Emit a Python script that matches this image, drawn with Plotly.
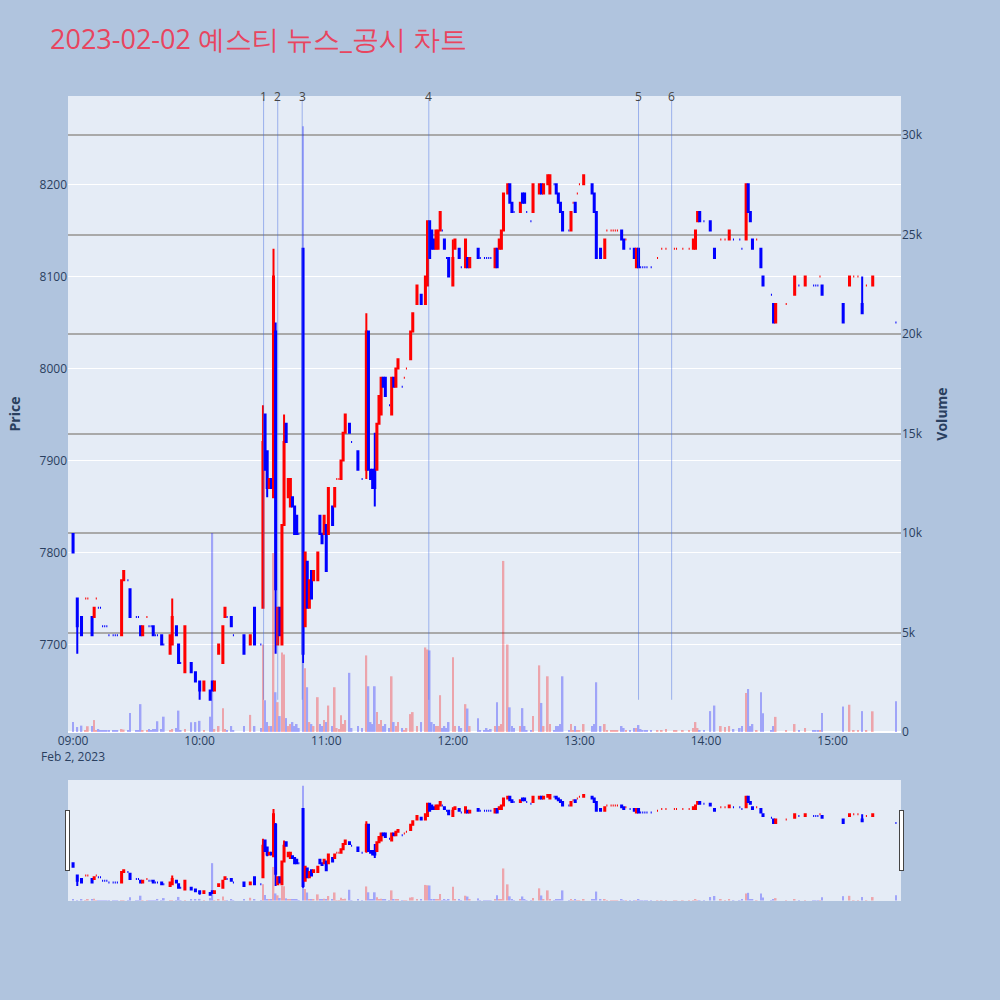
import pandas as pd
import plotly.graph_objects as go
from plotly.subplots import make_subplots

DATE = "2023-02-02"
TITLE = "2023-02-02 예스티 뉴스_공시 차트"

times = [
    "09:00","09:02","09:04","09:06","09:07","09:09","09:10","09:11","09:12","09:13",
    "09:14","09:15","09:16","09:17","09:19","09:20","09:21","09:23","09:24","09:26",
    "09:27","09:30","09:31","09:32","09:33","09:35","09:36","09:37","09:38","09:39",
    "09:40","09:42","09:43","09:46","09:47","09:49","09:50","09:51","09:53","09:56",
    "09:58","10:00","10:02","10:05","10:06","10:07","10:09","10:11","10:12","10:13",
    "10:15","10:16","10:21","10:24","10:26","10:29","10:30","10:31","10:32","10:33",
    "10:34","10:35","10:36","10:37","10:38","10:39","10:40","10:41","10:42","10:43",
    "10:44","10:45","10:46","10:47","10:49","10:50","10:51","10:52","10:53","10:54",
    "10:56","10:57","10:58","10:59","11:00","11:01","11:03","11:04","11:05","11:06",
    "11:07","11:08","11:09","11:11","11:12","11:15","11:17","11:19","11:20","11:21",
    "11:22","11:23","11:24","11:25","11:26","11:27","11:28","11:30","11:31","11:32",
    "11:33","11:34","11:36","11:37","11:38","11:40","11:41","11:43","11:45","11:47",
    "11:48","11:49","11:50","11:51","11:52","11:53","11:54","11:55","11:56","11:57",
    "11:58","12:00","12:01","12:03","12:04","12:06","12:07","12:08","12:12","12:13",
    "12:15","12:16","12:17","12:18","12:20","12:21","12:22","12:23","12:24","12:26",
    "12:27","12:28","12:29","12:32","12:33","12:34","12:35","12:37","12:38","12:41",
    "12:42","12:43","12:45","12:46","12:48","12:49","12:50","12:51","12:52","12:55",
    "12:56","12:57","12:58","12:59","13:00","13:02","13:06","13:07","13:08","13:10",
    "13:12","13:13","13:15","13:16","13:17","13:18","13:20","13:21","13:22","13:24",
    "13:26","13:27","13:28","13:29","13:30","13:31","13:32","13:34","13:37","13:39",
    "13:41","13:45","13:46","13:49","13:52","13:54","13:55","13:56","13:57","13:59",
    "14:02","14:04","14:07","14:09","14:11","14:13","14:16","14:17","14:19","14:20",
    "14:21","14:22","14:24","14:26","14:27","14:31","14:32","14:33","14:38","14:42",
    "14:44","14:47","14:51","14:52","14:53","14:54","14:55","15:05","15:08","15:10",
    "15:12","15:14","15:16","15:19","15:30",
]

opens = [
    7820,7750,7730,7750,7750,7730,7730,7750,7740,7740,
    7720,7720,7720,7710,7710,7710,7710,7710,7770,7770,
    7760,7730,7730,7720,7710,7730,7720,7720,7720,7710,
    7710,7710,7700,7690,7700,7720,7700,7680,7670,7680,
    7670,7660,7650,7650,7660,7650,7690,7680,7730,7730,
    7730,7710,7710,7700,7740,7700,7740,7950,7910,7870,
    7880,7860,8040,7700,7740,7700,7830,7940,7860,7850,
    7860,7850,7840,7820,8130,7720,7790,7740,7780,7770,
    7770,7840,7820,7820,7830,7820,7850,7850,7880,7880,
    7880,7900,7930,7940,7920,7910,7880,7890,8040,7890,
    7890,7890,7890,7940,7950,7990,7990,7960,7950,7990,
    7980,8000,7980,7990,8000,8010,8040,8070,8080,8070,
    8090,8160,8150,8140,8130,8130,8150,8150,8140,8120,
    8120,8090,8130,8130,8110,8110,8120,8110,8130,8120,
    8120,8120,8120,8120,8110,8130,8130,8130,8150,8190,
    8200,8180,8170,8170,8190,8190,8170,8160,8170,8190,
    8200,8190,8200,8190,8200,8200,8190,8180,8170,8150,
    8150,8180,8180,8190,8200,8200,8200,8190,8170,8130,
    8120,8150,8150,8150,8150,8150,8150,8140,8140,8130,
    8130,8110,8130,8110,8110,8110,8110,8110,8120,8130,
    8130,8130,8130,8130,8130,8130,8130,8160,8170,8160,
    8160,8130,8140,8140,8140,8140,8140,8130,8140,8200,
    8170,8140,8140,8130,8100,8080,8070,8050,8070,8080,
    8090,8090,8090,8090,8090,8100,8090,8070,8090,8100,
    8100,8070,8090,8090,8050,
]

highs = [
    7820,7750,7730,7750,7750,7730,7740,7750,7740,7740,
    7720,7720,7720,7710,7710,7710,7710,7770,7780,7770,
    7760,7730,7730,7720,7720,7730,7720,7720,7720,7710,
    7710,7710,7700,7710,7750,7720,7700,7680,7720,7680,
    7670,7660,7660,7650,7660,7660,7700,7720,7740,7730,
    7730,7710,7710,7710,7740,7700,7960,7950,7910,7880,
    7880,8130,8050,7740,7740,7830,7950,7940,7880,7880,
    7860,7850,7840,7820,8130,7800,7790,7770,7780,7780,
    7800,7840,7820,7840,7830,7870,7850,7870,7880,7880,
    7900,7930,7950,7940,7920,7910,7880,8060,8040,7890,
    7890,7930,7940,7970,7990,7990,7990,7960,7990,7990,
    8000,8010,7980,7990,8000,8040,8060,8090,8080,8100,
    8160,8160,8150,8140,8150,8150,8170,8150,8140,8120,
    8120,8140,8140,8130,8110,8140,8120,8120,8130,8120,
    8120,8120,8120,8120,8130,8130,8140,8150,8190,8200,
    8200,8180,8170,8180,8190,8190,8170,8160,8200,8200,
    8200,8200,8210,8210,8200,8200,8190,8180,8170,8150,
    8170,8180,8180,8190,8200,8210,8200,8190,8170,8130,
    8140,8150,8150,8150,8150,8150,8150,8140,8140,8130,
    8130,8130,8130,8110,8110,8110,8110,8110,8120,8130,
    8130,8130,8130,8130,8130,8140,8150,8170,8170,8160,
    8160,8130,8140,8140,8150,8140,8140,8130,8200,8200,
    8170,8140,8140,8130,8100,8080,8070,8070,8070,8100,
    8090,8100,8090,8090,8090,8100,8090,8070,8100,8100,
    8100,8100,8090,8100,8050,
]

lows = [
    7800,7690,7710,7750,7750,7710,7730,7750,7740,7740,
    7720,7720,7720,7710,7710,7710,7710,7710,7770,7770,
    7730,7730,7730,7710,7710,7730,7720,7720,7710,7710,
    7710,7700,7700,7690,7700,7710,7680,7680,7670,7670,
    7660,7640,7650,7640,7650,7650,7690,7680,7730,7730,
    7720,7710,7690,7700,7700,7700,7740,7890,7860,7870,
    7870,7860,7690,7700,7710,7700,7830,7920,7860,7850,
    7850,7820,7820,7820,7680,7720,7740,7740,7750,7770,
    7770,7820,7810,7820,7780,7820,7830,7850,7880,7880,
    7880,7900,7930,7930,7920,7890,7880,7880,7890,7880,
    7870,7850,7890,7940,7950,7980,7970,7960,7950,7980,
    7980,8000,7980,7990,8000,8010,8040,8070,8070,8070,
    8090,8120,8130,8130,8130,8130,8150,8150,8130,8120,
    8100,8090,8130,8120,8110,8110,8110,8110,8120,8120,
    8120,8120,8120,8120,8110,8110,8130,8130,8150,8190,
    8180,8170,8170,8170,8180,8180,8170,8160,8170,8190,
    8190,8190,8200,8190,8200,8190,8180,8170,8150,8150,
    8150,8180,8170,8190,8200,8200,8190,8170,8120,8120,
    8120,8150,8150,8150,8150,8150,8140,8130,8140,8130,
    8120,8110,8110,8110,8110,8110,8110,8110,8120,8130,
    8130,8130,8130,8130,8130,8130,8130,8160,8160,8160,
    8150,8120,8140,8140,8140,8140,8140,8130,8140,8170,
    8160,8130,8140,8110,8090,8080,8050,8050,8070,8080,
    8090,8090,8090,8090,8090,8100,8080,8050,8090,8100,
    8100,8060,8090,8090,8050,
]

closes = [
    7800,7720,7710,7750,7750,7710,7740,7750,7740,7740,
    7720,7720,7720,7710,7710,7710,7710,7770,7780,7770,
    7730,7730,7730,7710,7720,7730,7720,7720,7710,7710,
    7710,7700,7700,7710,7730,7710,7680,7680,7720,7670,
    7660,7650,7660,7640,7650,7660,7700,7720,7740,7730,
    7720,7710,7690,7710,7700,7700,7920,7890,7870,7880,
    7870,8100,7760,7740,7710,7830,7920,7920,7880,7880,
    7850,7820,7820,7820,7690,7800,7740,7770,7750,7780,
    7800,7820,7810,7840,7780,7870,7830,7870,7880,7880,
    7900,7930,7950,7930,7920,7890,7880,8040,7890,7880,
    7870,7870,7940,7970,7990,7980,7970,7960,7990,7980,
    8000,8010,7980,7990,8000,8040,8060,8090,8070,8100,
    8160,8120,8130,8130,8150,8150,8170,8150,8130,8120,
    8100,8120,8140,8120,8110,8140,8110,8120,8120,8120,
    8120,8120,8120,8120,8130,8110,8140,8150,8190,8200,
    8180,8170,8170,8180,8180,8180,8170,8160,8200,8200,
    8190,8200,8210,8210,8200,8190,8180,8170,8150,8150,
    8170,8180,8170,8190,8200,8210,8190,8170,8120,8120,
    8140,8150,8150,8150,8150,8150,8140,8130,8140,8130,
    8120,8130,8110,8110,8110,8110,8110,8110,8120,8130,
    8130,8130,8130,8130,8130,8140,8150,8170,8160,8160,
    8150,8120,8140,8140,8150,8140,8140,8130,8200,8170,
    8160,8130,8140,8110,8090,8080,8050,8070,8070,8100,
    8090,8100,8090,8090,8090,8100,8080,8050,8100,8100,
    8100,8060,8090,8100,8050,
]

volumes = [
    500,250,320,100,290,300,600,100,150,80,
    100,80,60,100,60,80,60,150,120,80,
    960,100,80,1400,100,80,150,100,150,150,
    540,150,770,100,150,200,1075,80,150,490,
    500,560,80,770,10000,150,300,1190,150,100,
    300,100,300,860,300,200,4400,1600,500,300,
    300,9000,2000,1500,800,4000,3900,700,300,400,
    500,300,400,200,30450,3200,2250,500,400,300,
    1750,400,300,600,500,1330,300,2250,200,150,
    840,400,600,2975,200,300,200,3850,2300,500,
    400,2300,1000,400,600,300,400,200,2800,500,
    300,500,200,100,200,900,1000,300,500,4250,
    4150,4100,500,400,300,300,1850,200,300,200,
    500,3760,300,300,200,1400,1180,300,690,100,
    100,200,100,150,300,1500,300,400,8600,4400,
    1240,300,200,300,1200,300,100,100,800,3350,
    1460,300,2800,400,100,300,300,400,2800,100,
    400,100,300,100,100,400,300,400,2500,300,
    400,100,100,100,100,100,300,200,100,100,
    200,200,350,150,100,100,100,80,100,100,
    150,80,80,80,100,200,500,200,100,100,
    1050,1330,300,250,300,150,200,300,1960,2160,
    300,400,100,2000,940,100,300,760,100,400,
    100,200,100,100,100,100,960,1280,1370,100,
    100,1050,100,1040,1550,
]

event_times = ["10:30:18", "10:37:00", "10:48:36", "11:48:36", "13:28:00", "13:43:42"]
event_labels = ["1", "2", "3", "4", "5", "6"]

price_range = [7605, 8296]
volume_range = [0, 31973]
x_range = [f"{DATE} 08:57:36", f"{DATE} 15:32:24"]

UP = "red"
DOWN = "blue"

x = pd.to_datetime([f"{DATE} {t}" for t in times])

# direction per bar, same rule as plotly's candlestick (ties keep previous direction)
vol_colors = []
inc = True
prev_c = None
for o, c in zip(opens, closes):
    if o == c:
        if prev_c is not None and c != prev_c:
            inc = c > prev_c
    else:
        inc = c > o
    prev_c = c
    vol_colors.append(UP if inc else DOWN)

fig = make_subplots(specs=[[{"secondary_y": True}]])

fig.add_trace(
    go.Candlestick(
        x=x, open=opens, high=highs, low=lows, close=closes,
        increasing=dict(line=dict(color=UP), fillcolor=UP),
        decreasing=dict(line=dict(color=DOWN), fillcolor=DOWN),
        name="Price", showlegend=False,
    ),
    secondary_y=False,
)
fig.add_trace(
    go.Bar(
        x=x, y=volumes, marker=dict(color=vol_colors, line=dict(width=0)),
        opacity=0.3, name="Volume", showlegend=False,
    ),
    secondary_y=True,
)

for t, lab in zip(event_times, event_labels):
    ts = f"{DATE} {t}"
    fig.add_shape(
        type="line", xref="x", yref="y", x0=ts, x1=ts,
        y0=min(lows), y1=price_range[1] - 3,
        line=dict(color="rgba(65,105,225,0.45)", width=1),
    )
    fig.add_annotation(
        x=ts, xref="x", y=1.0, yref="paper", text=lab, showarrow=False,
        yanchor="middle", font=dict(size=12, color="#444"),
    )

fig.update_layout(
    width=1000, height=1000,
    paper_bgcolor="lightsteelblue",
    title=dict(
        text=TITLE, x=0.05, xanchor="left", y=0.96, yanchor="middle",
        font=dict(size=27, color="#e8455f"),
    ),
    margin=dict(l=68, r=99, t=96, b=100),
    showlegend=False,
    bargap=0.2,
)
fig.update_xaxes(
    range=x_range, automargin=False, domain=[0, 1],
    rangeslider=dict(visible=True, thickness=0.15, range=x_range),
)
fig.update_yaxes(title_text="<b>Price</b>", range=price_range, automargin=False,
                 secondary_y=False)
fig.update_yaxes(
    title_text="<b>Volume</b>", range=volume_range, showgrid=True, automargin=False,
    gridcolor="darkgray", gridwidth=2, secondary_y=True,
)

fig.write_html(
    "out.html",
    config={"displayModeBar": False},
    post_script="document.body.style.margin='0';",
)
